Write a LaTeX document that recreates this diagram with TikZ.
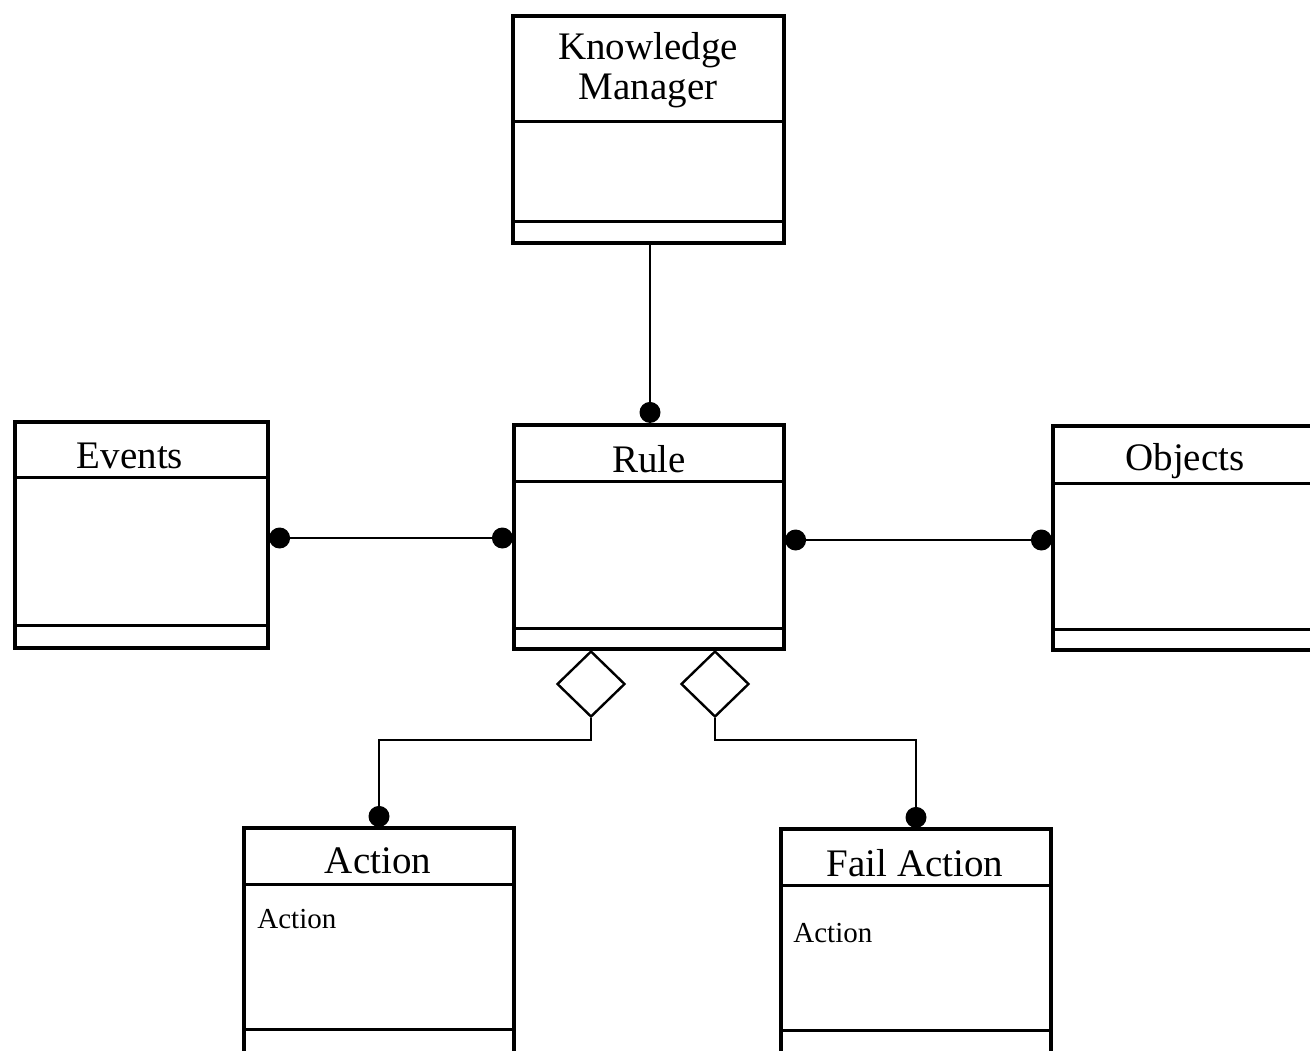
\documentclass[tikz,border=0pt]{standalone}
\usepackage{fontspec}
\setmainfont{Liberation Serif}
\usetikzlibrary{fit,shapes.geometric,calc}
\begin{document}
\begin{tikzpicture}[x=0.5pt,y=-0.5pt,
  classbox/.style={draw,line width=1.6pt,inner sep=0pt,fit={#1}},
  sepline/.style={line width=1.5pt},
  link/.style={line width=1.3pt},
  dotend/.style={fill=black},
  agg/.style={draw,diamond,fill=white,line width=1.2pt,inner sep=0pt,minimum width=34pt,minimum height=33pt},
  title/.style={font=\fontsize{19.5}{20}\selectfont,align=center,inner sep=0pt},
  attr/.style={font=\fontsize{14.5}{16}\selectfont,anchor=west,inner sep=0pt}]
\useasboundingbox (0,0) rectangle (1310,1050);
\clip (0,0) rectangle (1310,1050);

% class boxes
\node[classbox={(513,16)(784,243)}] (km) {};
\node[classbox={(15,422)(268,648)}] (events) {};
\node[classbox={(514,425)(784,649)}] (rule) {};
\node[classbox={(1053,426)(1340,650)}] (objects) {};
\node[classbox={(244,828)(514,1080)}] (action) {};
\node[classbox={(781,829)(1051,1080)}] (fail) {};

% compartment separators
\draw[sepline] (km.west |- 0,121) -- (km.east |- 0,121);
\draw[sepline] (km.west |- 0,221) -- (km.east |- 0,221);
\draw[sepline] (events.west |- 0,477) -- (events.east |- 0,477);
\draw[sepline] (events.west |- 0,625) -- (events.east |- 0,625);
\draw[sepline] (rule.west |- 0,481) -- (rule.east |- 0,481);
\draw[sepline] (rule.west |- 0,628) -- (rule.east |- 0,628);
\draw[sepline] (objects.west |- 0,483) -- (objects.east |- 0,483);
\draw[sepline] (objects.west |- 0,629) -- (objects.east |- 0,629);
\draw[sepline] (action.west |- 0,884) -- (action.east |- 0,884);
\draw[sepline] (action.west |- 0,1029) -- (action.east |- 0,1029);
\draw[sepline] (fail.west |- 0,885) -- (fail.east |- 0,885);
\draw[sepline] (fail.west |- 0,1030) -- (fail.east |- 0,1030);

% titles and attributes
\node[title] (kmt) at (648,70) {Knowledge\\Manager};
\node[title] (evt) at (130,456) {Events};
\node[title] (rlt) at (649,459) {Rule};
\node[title] (obt) at (1185,461) {Objects};
\node[title] (act) at (378,861) {Action};
\node[title] (fat) at (915,863) {Fail Action};
\node[attr] (acta) at (257,919) {Action};
\node[attr] (fata) at (793,933) {Action};

% associations
\coordinate (ruletop) at (rule.north -| 650,0);
\draw[link] (km.south -| 650,0) -- (ruletop);
\fill[dotend] ($(ruletop)+(0,-11)$) circle (10.5);

\coordinate (evR) at (events.east |- 0,538);
\coordinate (ruL) at (rule.west |- 0,538);
\draw[link] (evR) -- (ruL);
\fill[dotend] ($(evR)+(10,0)$) circle (10.5);
\fill[dotend] ($(ruL)+(-10,0)$) circle (10.5);

\coordinate (ruR) at (rule.east |- 0,540);
\coordinate (obL) at (objects.west |- 0,540);
\draw[link] (ruR) -- (obL);
\fill[dotend] ($(ruR)+(10,0)$) circle (10.5);
\fill[dotend] ($(obL)+(-10,0)$) circle (10.5);

% aggregations
\node[agg] (dl) at (591,684) {};
\node[agg] (dr) at (715,684) {};
\draw[link] (dl.south) -- (dl.south |- 0,740) -| (action.north);
\draw[link] (dr.south) -- (dr.south |- 0,740) -| (fail.north);
\fill[dotend] ($(action.north)+(0,-10)$) circle (10.5);
\fill[dotend] ($(fail.north)+(0,-10)$) circle (10.5);
\end{tikzpicture}
\end{document}
